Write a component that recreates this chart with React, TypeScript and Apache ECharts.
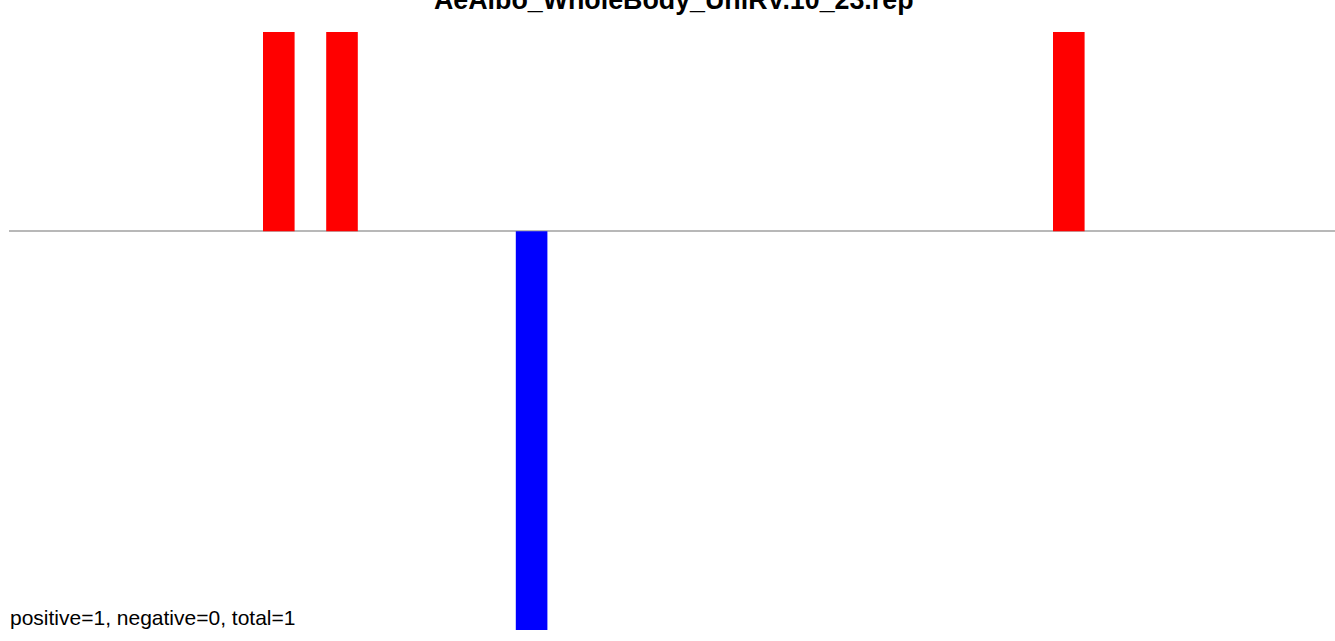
import React, { useEffect, useRef } from "react";
import * as echarts from "echarts";

const TITLE = "AeAlbo_WholeBody_UniRV.10_23.rep";
const FOOTER = "positive=1, negative=0, total=1";

const categories: string[] = Array.from({ length: 42 }, (_, i) => String(i + 1));
const values: number[] = [
  0, 0, 0, 0, 0, 0, 0, 0, 1, 0,
  1, 0, 0, 0, 0, 0, -2, 0, 0, 0,
  0, 0, 0, 0, 0, 0, 0, 0, 0, 0,
  0, 0, 0, 1, 0, 0, 0, 0, 0, 0,
  0, 0,
];
const Y_MIN = -2;
const Y_MAX = 1;

export default function App() {
  const ref = useRef<HTMLDivElement>(null);
  useEffect(() => {
    if (!ref.current) return;
    const chart = echarts.init(ref.current, undefined, { renderer: "svg" });
    chart.setOption({
      animation: false,
      backgroundColor: "#ffffff",
      grid: { left: 10.2, width: 1327.2, top: 32, bottom: 11, containLabel: false },
      xAxis: {
        type: "category",
        data: categories,
        axisLine: { show: false },
        axisTick: { show: false },
        axisLabel: { show: false },
        splitLine: { show: false },
      },
      yAxis: {
        type: "value",
        min: Y_MIN,
        max: Y_MAX,
        axisLine: { show: false },
        axisTick: { show: false },
        axisLabel: { show: false },
        splitLine: { show: false },
      },
      series: [
        {
          type: "bar",
          data: values.map((v) => ({
            value: v,
            itemStyle: { color: v >= 0 ? "#ff0000" : "#0000ff" },
          })),
          barWidth: "100%",
          barGap: "0%",
          z: 2,
        },
      ],
      graphic: [
        {
          type: "line",
          shape: { x1: 9, y1: 231, x2: 1335, y2: 231 },
          style: { stroke: "#a0a0a0", lineWidth: 1.5 },
          z: 1,
        },
        {
          type: "text",
          left: 434,
          top: -14,
          style: {
            text: TITLE,
            font: "bold 26.8px 'Liberation Sans', Arial, sans-serif",
            fill: "#000000",
          },
        },
        {
          type: "text",
          left: 10,
          top: 607,
          style: {
            text: FOOTER,
            font: "21px 'Liberation Sans', Arial, sans-serif",
            fill: "#000000",
          },
        },
      ],
    });
    return () => chart.dispose();
  }, []);
  return (
    <div
      style={{
        position: "absolute",
        left: 0,
        top: 0,
        width: 1335,
        height: 641,
        overflow: "hidden",
        background: "#ffffff",
      }}
    >
      <div ref={ref} style={{ width: 1345, height: 641 }} />
    </div>
  );
}
